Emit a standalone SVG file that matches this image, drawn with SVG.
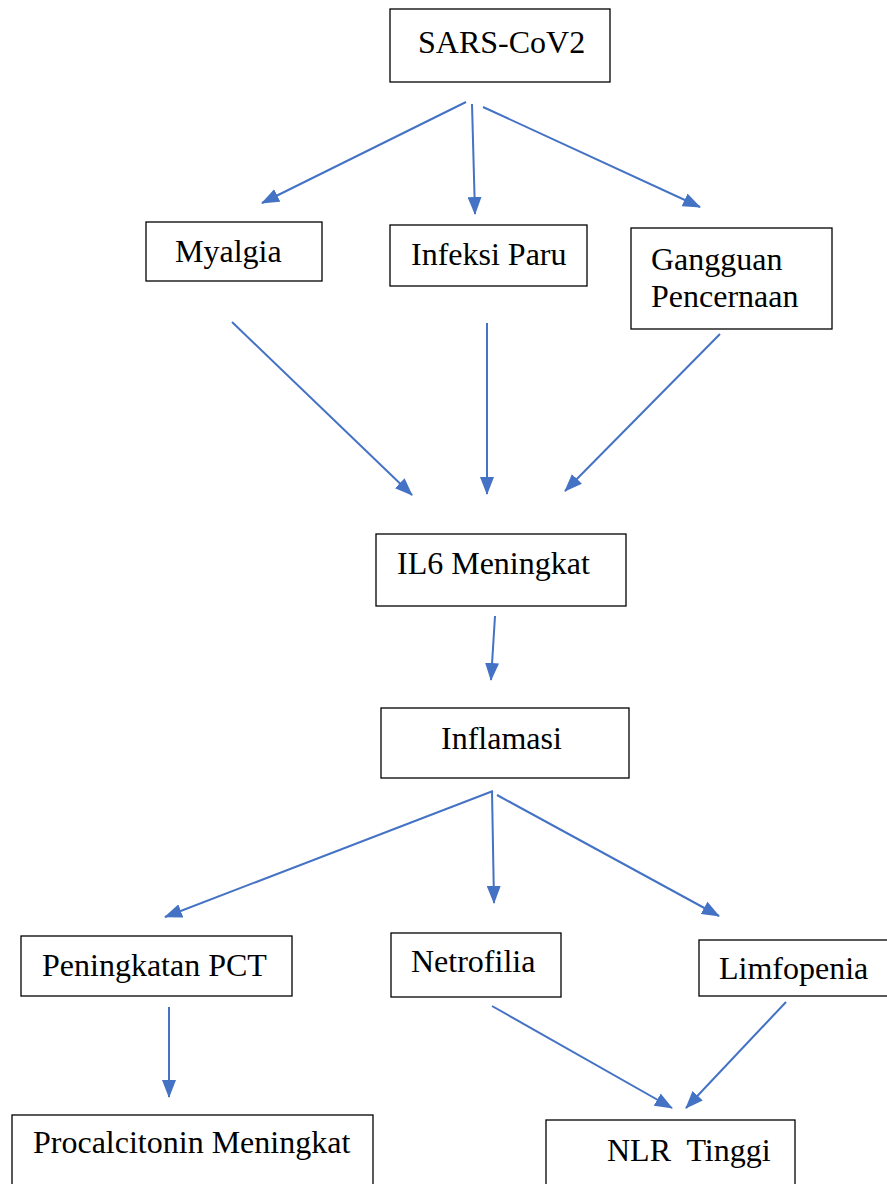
<svg xmlns="http://www.w3.org/2000/svg" width="887" height="1184" viewBox="0 0 887 1184">
<style>
.box{fill:#fff;stroke:#000;stroke-width:1.3}
.t{font-family:"Liberation Serif","Times New Roman",serif;font-size:32px;fill:#000}
.c{stroke:#4472C4;stroke-width:2;fill:none;marker-end:url(#ah)}
</style>
<defs>
<marker id="ah" markerUnits="userSpaceOnUse" markerWidth="18" markerHeight="14" viewBox="0 0 18 14" refX="17" refY="7" orient="auto">
<path d="M0,0 L18,7 L0,14 z" fill="#4472C4"/>
</marker>
</defs>
<rect width="887" height="1184" fill="#fff"/>
<g id="connectors">
<line class="c" x1="466" y1="102" x2="262" y2="203"/>
<line class="c" x1="472" y1="104" x2="475" y2="214"/>
<line class="c" x1="483" y1="107" x2="700" y2="207"/>
<line class="c" x1="232" y1="322" x2="412" y2="495"/>
<line class="c" x1="487" y1="323" x2="487" y2="494"/>
<line class="c" x1="720" y1="334" x2="565" y2="491"/>
<line class="c" x1="495" y1="616" x2="491" y2="680"/>
<line class="c" x1="493" y1="791" x2="165" y2="917"/>
<line class="c" x1="492" y1="791" x2="494" y2="903"/>
<line class="c" x1="497" y1="795" x2="719" y2="916"/>
<line class="c" x1="169" y1="1007" x2="169" y2="1097"/>
<line class="c" x1="492" y1="1006" x2="672" y2="1108"/>
<line class="c" x1="786" y1="1002" x2="686" y2="1108"/>
</g>
<g id="sars"><rect class="box" x="390" y="9" width="220" height="73"/><text class="t" x="418" y="53">SARS-CoV2</text></g>
<g id="myalgia"><rect class="box" x="146" y="222" width="176" height="59"/><text class="t" x="175" y="262">Myalgia</text></g>
<g id="infeksi"><rect class="box" x="390" y="225" width="197" height="61"/><text class="t" x="411" y="265">Infeksi Paru</text></g>
<g id="gangguan"><rect class="box" x="631" y="228" width="201" height="101"/><text class="t" x="651" y="270">Gangguan</text><text class="t" x="651" y="307">Pencernaan</text></g>
<g id="il6"><rect class="box" x="376" y="534" width="250" height="72"/><text class="t" x="397" y="574">IL6 Meningkat</text></g>
<g id="inflamasi"><rect class="box" x="381" y="708" width="248" height="70"/><text class="t" x="441" y="749">Inflamasi</text></g>
<g id="pct"><rect class="box" x="21" y="936" width="271" height="60"/><text class="t" x="42" y="976">Peningkatan PCT</text></g>
<g id="netrofilia"><rect class="box" x="391" y="933" width="170" height="64"/><text class="t" x="411" y="972">Netrofilia</text></g>
<g id="limfopenia"><rect class="box" x="699" y="940" width="200" height="56"/><text class="t" x="719" y="979">Limfopenia</text></g>
<g id="procalcitonin"><rect class="box" x="12" y="1115" width="361" height="90"/><text class="t" x="33" y="1153">Procalcitonin Meningkat</text></g>
<g id="nlr"><rect class="box" x="546" y="1120" width="249" height="90"/><text class="t" x="607" y="1161" xml:space="preserve">NLR  Tinggi</text></g>
</svg>
